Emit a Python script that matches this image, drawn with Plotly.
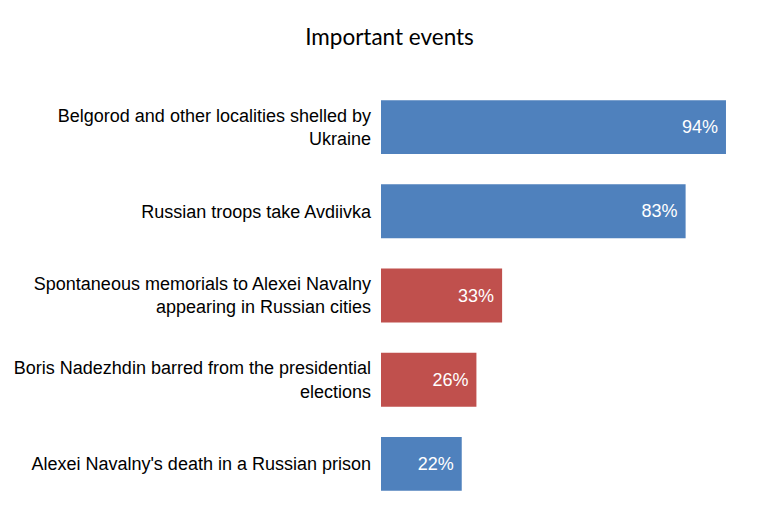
import plotly.graph_objects as go

categories = [
    "Belgorod and other localities shelled by<br>Ukraine",
    "Russian troops take Avdiivka",
    "Spontaneous memorials to Alexei Navalny<br>appearing in Russian cities",
    "Boris Nadezhdin barred from the presidential<br>elections",
    "Alexei Navalny's death in a Russian prison",
]
values = [94, 83, 33, 26, 22]
colors = ["#4F81BD", "#4F81BD", "#C0504D", "#C0504D", "#4F81BD"]
labels = [f"{v}% " for v in values]

fig = go.Figure(go.Bar(
    x=values, y=categories, orientation="h",
    marker=dict(color=colors, line=dict(width=0)),
    text=labels, textposition="inside", insidetextanchor="end",
    textfont=dict(family="Liberation Sans, Arial", size=18, color="white"),
    hoverinfo="skip",
))

fig.update_layout(
    width=763, height=523,
    margin=dict(l=373, r=23, t=77, b=25, autoexpand=False),
    paper_bgcolor="white", plot_bgcolor="white",
    title=dict(text="Important events", x=0.5, xanchor="center", y=0.945, yanchor="middle",
               font=dict(family="Lato", size=22.5, color="black")),
    bargap=0.36,
    showlegend=False,
    uniformtext=dict(minsize=18, mode="show"),
)
fig.update_xaxes(range=[0, 100], visible=False, automargin=False)
fig.update_yaxes(autorange="reversed", showline=False, showgrid=False, ticks="",
                 ticklabelstandoff=9, automargin=False,
                 tickfont=dict(family="Liberation Sans, Arial", size=18, color="black"))

fig.write_html("out.html")
